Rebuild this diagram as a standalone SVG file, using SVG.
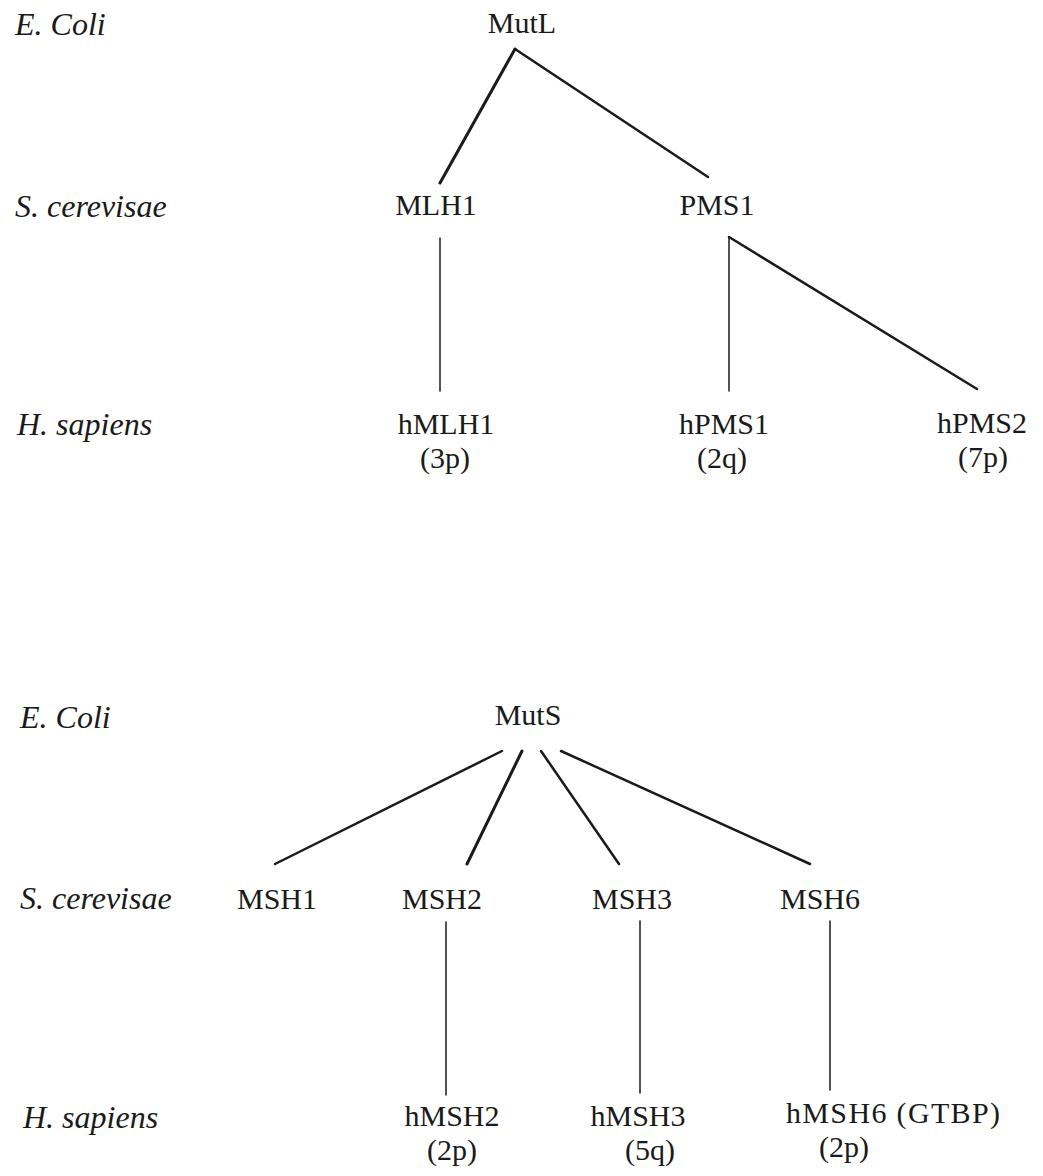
<svg xmlns="http://www.w3.org/2000/svg" width="1043" height="1176" viewBox="0 0 1043 1176">
<style>
text { font-family: "Liberation Serif", "Times New Roman", serif; font-size: 30px; fill: #1a1a1a; }
.sp { font-style: italic; font-size: 32px; }
.n { text-anchor: middle; }
.c line { stroke: #1a1a1a; stroke-linecap: round; }
.thick { stroke-width: 3; }
.med { stroke-width: 2.5; }
.thin { stroke-width: 1.5; }
</style>
<rect width="1043" height="1176" fill="#ffffff"/>
<g id="species-labels">
<text class="sp" x="15" y="35">E. Coli</text>
<text class="sp" x="15" y="217">S. cerevisae</text>
<text class="sp" x="17" y="435">H. sapiens</text>
<text class="sp" x="20" y="728">E. Coli</text>
<text class="sp" x="20" y="909">S. cerevisae</text>
<text class="sp" x="23" y="1128">H. sapiens</text>
</g>
<g id="MutL"><text class="n" x="522" y="33">MutL</text></g>
<g id="MLH1"><text class="n" x="436" y="215">MLH1</text></g>
<g id="PMS1"><text class="n" x="717" y="215">PMS1</text></g>
<g id="hMLH1"><text class="n" x="446" y="434">hMLH1</text><text class="n" x="445" y="468">(3p)</text></g>
<g id="hPMS1"><text class="n" x="724" y="434">hPMS1</text><text class="n" x="722" y="468">(2q)</text></g>
<g id="hPMS2"><text class="n" x="982" y="433">hPMS2</text><text class="n" x="983" y="467">(7p)</text></g>
<g id="MutS"><text class="n" x="528" y="725">MutS</text></g>
<g id="MSH1"><text class="n" x="277" y="909">MSH1</text></g>
<g id="MSH2"><text class="n" x="442" y="909">MSH2</text></g>
<g id="MSH3"><text class="n" x="632" y="909">MSH3</text></g>
<g id="MSH6"><text class="n" x="820" y="909">MSH6</text></g>
<g id="hMSH2"><text class="n" x="452" y="1126">hMSH2</text><text class="n" x="452" y="1160">(2p)</text></g>
<g id="hMSH3"><text class="n" x="638" y="1126">hMSH3</text><text class="n" x="650" y="1160">(5q)</text></g>
<g id="hMSH6"><text x="786" y="1123" textLength="214" lengthAdjust="spacing">hMSH6 (GTBP)</text><text class="n" x="844" y="1157">(2p)</text></g>
<g id="connectors" class="c">
<line class="thick" x1="515" y1="49" x2="440" y2="183"/>
<line class="med" x1="515" y1="49" x2="708" y2="177"/>
<line class="thin" x1="440" y1="238" x2="440" y2="391"/>
<line class="thin" x1="729" y1="237" x2="729" y2="391"/>
<line class="med" x1="729" y1="237" x2="977" y2="389"/>
<line class="med" x1="502" y1="751" x2="275" y2="864"/>
<line class="thick" x1="522" y1="751" x2="467" y2="864"/>
<line class="med" x1="541" y1="751" x2="619" y2="864"/>
<line class="med" x1="561" y1="751" x2="810" y2="864"/>
<line class="thin" x1="446" y1="922" x2="446" y2="1095"/>
<line class="thin" x1="640" y1="921" x2="640" y2="1093"/>
<line class="thin" x1="830" y1="921" x2="830" y2="1090"/>
</g>
</svg>
